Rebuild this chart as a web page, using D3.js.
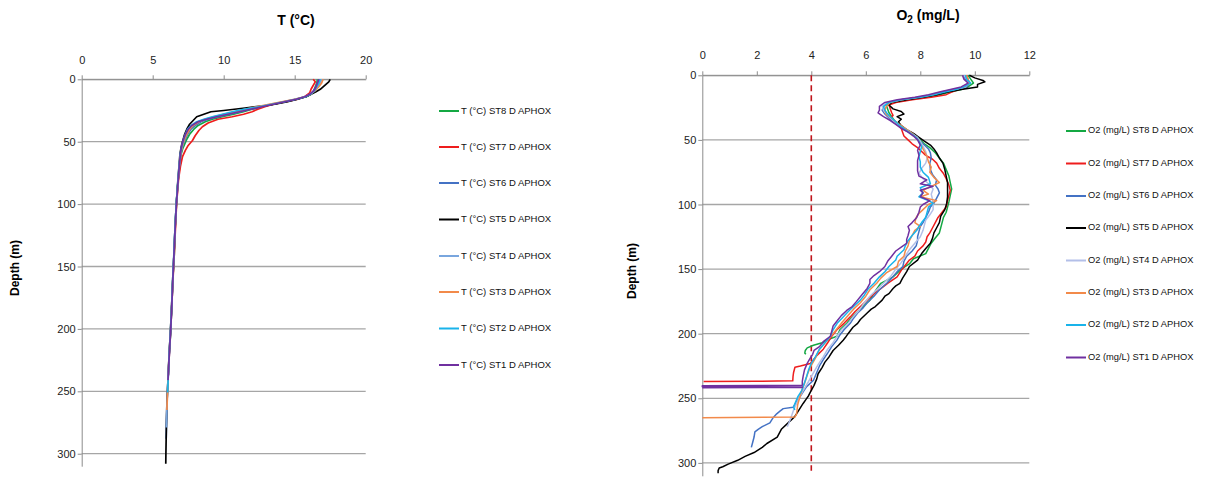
<!DOCTYPE html>
<html>
<head>
<meta charset="utf-8">
<script src="https://cdn.jsdelivr.net/npm/d3@7"></script>
<style>
  body { margin: 0; background: #fff; }
  svg { font-family: "Liberation Sans", Arial, sans-serif; }
  .axis path, .axis line { stroke: #8c8c8c; }
  .axis text { font-size: 11px; fill: #222; }
  .grid line { stroke: #a6a6a6; stroke-width: 1.3; }
</style>
</head>
<body>
<svg id="chart" width="1207" height="477"></svg>
<script>
// stations, in legend / draw order
const stations = ['ST8', 'ST7', 'ST6', 'ST5', 'ST4', 'ST3', 'ST2', 'ST1'];
const tempColors = ['#14a843', '#ee1d1d', '#4472c4', '#000000', '#79a6de', '#f28a4a', '#19b3ea', '#7030a0'];
const o2Colors = ['#14a843', '#ee1d1d', '#4472c4', '#000000', '#b3bfe8', '#f28a4a', '#19b3ea', '#7030a0'];

const tempTicks = [0, 5, 10, 15, 20];
const o2Ticks = [0, 2, 4, 6, 8, 10, 12];
const depthTicks = [0, 50, 100, 150, 200, 250, 300];
const o2Threshold = 4;

// [depth (m), T (°C)]
const tempST8 = [[0,16.6],[3,16.55],[6,16.45],[9,16.35],[12,16.15],[14,15.8],[16,15.1],[18,14.3],[20,13.5],[22,12.7],[24,12.0],[26,11.4],[28,10.7],[30,9.9],[32,9.2],[34,8.7],[37,8.2],[40,7.9],[44,7.6],[48,7.4],[52,7.25],[56,7.1],[60,7.0],[70,6.9],[80,6.8],[90,6.72],[100,6.67],[120,6.58],[140,6.52],[160,6.42],[180,6.35],[200,6.27],[216,6.2]];
const tempST7 = [[0,16.3],[2,16.45],[5,16.3],[8,16.15],[11,16.05],[14,15.7],[16,15.2],[18,14.4],[20,13.5],[22,12.9],[24,12.4],[26,12.0],[28,11.4],[30,10.6],[32,9.6],[35,8.9],[38,8.5],[41,8.25],[45,8.0],[49,7.8],[53,7.5],[57,7.3],[62,7.1],[70,6.95],[80,6.82],[90,6.75],[100,6.68],[120,6.6],[140,6.52],[160,6.43],[180,6.35],[200,6.27],[220,6.17],[237,6.1]];
const tempST6 = [[0,16.7],[3,16.6],[6,16.5],[9,16.35],[12,16.1],[14,15.75],[16,15.05],[18,14.2],[20,13.4],[22,12.6],[24,11.8],[26,11.2],[28,10.4],[30,9.6],[32,8.9],[34,8.4],[37,8.0],[40,7.7],[44,7.45],[48,7.3],[52,7.15],[56,7.05],[60,6.98],[70,6.88],[80,6.8],[100,6.66],[120,6.57],[140,6.5],[160,6.42],[180,6.35],[200,6.27],[220,6.17],[240,6.08],[260,6.0],[288,5.95]];
const tempST5 = [[0,17.5],[2,17.4],[4,17.2],[6,17.0],[8,16.8],[10,16.5],[12,16.15],[14,15.8],[16,15.2],[18,14.5],[20,13.6],[21,13.0],[23,11.5],[25,10.0],[26,9.1],[28,8.6],[30,8.1],[33,7.85],[36,7.6],[40,7.4],[44,7.25],[48,7.15],[52,7.05],[56,6.98],[60,6.92],[70,6.85],[80,6.78],[100,6.66],[120,6.57],[140,6.5],[160,6.41],[180,6.34],[200,6.26],[220,6.16],[240,6.08],[260,6.0],[280,5.96],[300,5.93],[308,5.92]];
const tempST4 = [[0,16.9],[3,16.8],[6,16.6],[9,16.4],[12,16.1],[14,15.7],[16,15.0],[18,14.2],[20,13.3],[22,12.5],[24,11.7],[26,10.9],[28,10.1],[30,9.4],[32,8.7],[34,8.2],[37,7.8],[40,7.55],[44,7.35],[48,7.2],[52,7.1],[56,7.02],[60,6.95],[70,6.86],[80,6.79],[100,6.66],[120,6.57],[140,6.5],[160,6.42],[180,6.34],[200,6.26],[220,6.16],[240,6.08],[260,6.01],[279,5.96]];
const tempST3 = [[0,17.0],[3,16.9],[6,16.7],[9,16.45],[12,16.1],[14,15.7],[16,15.0],[18,14.1],[20,13.2],[22,12.3],[24,11.5],[26,10.8],[28,10.0],[30,9.3],[32,8.7],[34,8.25],[37,7.85],[40,7.6],[44,7.4],[48,7.25],[52,7.12],[56,7.04],[60,6.97],[70,6.87],[80,6.8],[100,6.67],[120,6.58],[140,6.5],[160,6.42],[180,6.34],[200,6.26],[220,6.16],[240,6.08],[265,6.0]];
const tempST2 = [[0,16.8],[3,16.7],[6,16.55],[9,16.4],[12,16.1],[14,15.75],[16,15.1],[18,14.3],[20,13.4],[22,12.5],[24,11.4],[26,10.6],[28,9.9],[30,9.2],[32,8.6],[34,8.1],[37,7.7],[40,7.45],[44,7.3],[48,7.18],[52,7.08],[56,7.0],[60,6.95],[70,6.86],[80,6.79],[100,6.66],[120,6.57],[140,6.49],[160,6.41],[180,6.34],[200,6.26],[220,6.16],[240,6.09],[251,6.05]];
const tempST1 = [[0,16.7],[3,16.6],[6,16.5],[9,16.35],[12,16.05],[14,15.7],[16,15.1],[18,14.3],[20,13.5],[22,12.7],[24,11.9],[26,11.1],[28,10.3],[30,9.5],[32,8.8],[34,8.2],[37,7.75],[40,7.5],[44,7.3],[48,7.17],[52,7.07],[56,7.0],[60,6.95],[70,6.87],[80,6.8],[100,6.67],[120,6.58],[140,6.5],[160,6.42],[180,6.35],[200,6.27],[220,6.17],[241,6.08]];

// [depth (m), O2 (mg/L)]
const o2ST8 = [[0,9.75],[3,9.85],[6,9.95],[9,9.75],[11,9.5],[13,9.1],[15,8.7],[17,8.2],[19,7.6],[21,7.0],[23,6.75],[26,6.8],[29,6.85],[32,6.95],[35,7.05],[38,7.2],[41,7.35],[44,7.6],[47,7.85],[50,8.0],[53,8.15],[56,8.35],[60,8.55],[64,8.7],[68,8.85],[73,8.95],[78,9.05],[83,9.1],[88,9.15],[93,9.1],[98,9.05],[102,9.0],[106,8.95],[110,8.85],[114,8.8],[118,8.75],[122,8.7],[126,8.55],[130,8.4],[134,8.3],[138,8.2],[142,7.75],[146,7.6],[150,7.3],[156,7.0],[161,6.55],[167,6.35],[174,6.15],[178,5.95],[183,5.7],[187,5.5],[192,5.3],[197,5.05],[202,4.94],[205,4.57],[207,4.4],[209,4.08],[211,3.85],[213,3.78],[215,3.76],[216,3.8]];
const o2ST7 = [[0,9.7],[3,9.75],[6,9.8],[9,9.7],[11,9.4],[13,9.15],[15,8.95],[17,8.4],[19,7.7],[21,7.1],[23,6.85],[26,6.9],[29,6.95],[31,7.0],[33,6.9],[35,6.95],[38,7.15],[41,7.3],[44,7.35],[47,7.4],[50,7.55],[53,7.7],[56,7.9],[59,8.05],[62,8.2],[65,8.45],[68,8.6],[72,8.7],[76,8.85],[80,8.95],[85,9.05],[89,9.1],[93,9.05],[97,9.0],[102,8.95],[106,8.8],[110,8.65],[114,8.55],[118,8.45],[122,8.35],[125,8.25],[129,8.2],[132,8.1],[136,7.9],[140,7.8],[143,7.6],[147,7.45],[151,7.3],[156,7.15],[161,6.8],[166,6.5],[170,6.25],[174,6.05],[178,5.85],[183,5.6],[187,5.43],[192,5.2],[197,4.94],[202,4.75],[207,4.6],[212,4.44],[217,4.2],[221,4.05],[223,3.96],[225,3.6],[226,3.4],[230,3.35],[233,3.33],[236.5,3.32],[236.8,2.0],[237,0.05]];
const o2ST6 = [[0,9.6],[3,9.65],[6,9.8],[9,9.7],[11,9.3],[13,8.8],[15,8.5],[17,8.0],[19,7.3],[21,6.85],[24,6.65],[27,6.6],[30,6.7],[33,6.85],[36,7.0],[39,7.2],[42,7.4],[45,7.65],[48,7.85],[51,8.0],[54,8.15],[57,8.3],[60,8.37],[64,8.4],[68,8.35],[73,8.37],[77,8.45],[81,8.6],[85,8.55],[88,8.65],[91,8.7],[95,8.6],[99,8.5],[102,8.37],[106,8.3],[110,8.2],[114,8.1],[117,8.0],[121,7.95],[125,7.9],[128,7.9],[132,7.85],[136,7.7],[140,7.5],[144,7.4],[148,7.36],[152,7.15],[157,6.95],[161,6.77],[166,6.5],[171,6.3],[176,6.05],[180,5.9],[184,5.7],[188,5.55],[192,5.43],[197,5.2],[201,5.05],[205,4.94],[210,4.75],[215,4.6],[220,4.44],[225,4.3],[230,4.2],[236,4.08],[241,3.83],[245,3.7],[249,3.58],[253,3.45],[257,3.33],[258,2.97],[260,2.85],[262,2.73],[265,2.6],[269,2.48],[272,2.2],[274,2.05],[276,1.93],[280,1.9],[284,1.85],[288,1.8]];
const o2ST5 = [[0,9.8],[2,10.0],[4,10.3],[5,10.37],[7,10.1],[9,10.1],[11,9.5],[13,9.0],[15,8.6],[17,8.1],[19,7.5],[21,6.95],[23,6.85],[26,7.0],[28,7.3],[30,7.4],[32,7.15],[34,7.3],[36,7.2],[39,7.3],[42,7.5],[45,7.75],[48,7.95],[51,8.15],[54,8.37],[57,8.5],[60,8.6],[64,8.7],[68,8.83],[73,8.9],[78,8.95],[83,9.0],[88,9.0],[94,9.0],[99,8.97],[104,8.9],[109,8.75],[114,8.7],[118,8.6],[122,8.5],[126,8.45],[130,8.37],[134,8.2],[138,8.05],[143,7.9],[148,7.6],[152,7.5],[157,7.35],[161,7.25],[163,7.1],[165,7.0],[169,6.85],[171,6.7],[174,6.6],[179,6.35],[181,6.2],[184,6.05],[189,5.8],[192,5.7],[195,5.53],[200,5.35],[203,5.25],[205,5.17],[209,5.0],[213,4.8],[218,4.65],[222,4.5],[226,4.4],[231,4.25],[235,4.2],[240,4.1],[245,3.97],[248,3.9],[251,3.8],[254,3.7],[259,3.55],[264,3.4],[269,3.15],[274,2.9],[280,2.75],[285,2.37],[288,2.2],[292,1.9],[295,1.57],[298,1.3],[301,0.95],[303,0.75],[304,0.62],[306,0.58],[308,0.58]];
const o2ST4 = [[0,9.6],[3,9.7],[6,9.8],[9,9.65],[11,9.25],[13,8.75],[15,8.4],[17,7.9],[19,7.3],[21,6.8],[24,6.6],[27,6.65],[30,6.75],[33,6.9],[36,7.05],[39,7.25],[42,7.5],[45,7.7],[48,7.9],[51,8.0],[55,8.1],[59,8.2],[64,8.25],[68,8.2],[72,8.05],[76,7.95],[80,8.1],[84,8.3],[88,8.47],[92,8.4],[96,8.45],[100,8.47],[104,8.47],[108,8.35],[112,8.2],[116,8.15],[120,8.1],[125,8.0],[130,7.8],[135,7.6],[140,7.45],[145,7.3],[150,7.1],[156,6.9],[161,6.65],[166,6.4],[171,6.15],[176,5.95],[182,5.75],[187,5.53],[192,5.35],[197,5.1],[202,4.94],[207,4.8],[212,4.6],[218,4.44],[224,4.25],[231,4.06],[237,3.9],[244,3.7],[249,3.58],[254,3.46],[259,3.35],[264,3.27],[268,3.2],[272,3.12]];
const o2ST3 = [[0,9.7],[3,9.75],[6,9.8],[9,9.6],[11,9.2],[13,8.8],[15,8.45],[17,7.95],[19,7.3],[21,6.9],[24,6.75],[27,6.7],[30,6.75],[33,6.95],[36,7.1],[39,7.3],[42,7.5],[45,7.7],[48,7.85],[51,7.95],[55,8.05],[59,8.15],[63,8.25],[67,8.3],[71,8.4],[75,8.35],[79,8.5],[83,8.7],[86,8.4],[89,8.1],[92,8.3],[94,8.0],[97,8.6],[100,8.3],[102,8.2],[104,8.1],[107,7.95],[110,7.85],[114,7.8],[117,8.0],[120,7.8],[124,7.7],[128,7.6],[132,7.55],[136,7.45],[140,7.4],[144,7.2],[148,7.15],[153,6.75],[157,6.55],[161,6.4],[166,6.15],[171,6.0],[176,5.8],[181,5.55],[187,5.3],[192,5.1],[196,4.95],[200,4.8],[206,4.55],[212,4.3],[219,4.15],[226,3.96],[232,3.85],[238,3.76],[244,3.65],[249,3.58],[255,3.5],[262,3.46],[264.5,3.4],[265,0]];
const o2ST2 = [[0,9.65],[3,9.7],[6,9.85],[9,9.6],[11,9.3],[13,8.9],[15,8.5],[17,8.0],[19,7.3],[21,6.85],[24,6.65],[27,6.7],[30,6.8],[33,6.95],[36,7.1],[39,7.25],[42,7.45],[45,7.65],[48,7.85],[51,7.95],[55,8.05],[59,8.0],[63,7.95],[67,8.0],[71,8.0],[75,8.1],[79,8.3],[84,8.37],[87,8.0],[91,8.1],[94,7.95],[97,8.3],[99,8.47],[102,8.3],[106,8.25],[110,8.2],[114,8.05],[117,7.95],[120,7.87],[124,7.7],[128,7.55],[132,7.45],[135,7.4],[140,7.15],[143,7.1],[148,6.85],[152,6.7],[156,6.5],[161,6.3],[165,6.1],[170,5.95],[174,5.8],[179,5.55],[183,5.35],[187,5.17],[192,4.95],[197,4.8],[202,4.7],[207,4.5],[212,4.3],[218,4.15],[223,4.0],[228,3.9],[233,3.83],[238,3.75],[244,3.65],[249,3.5],[254,3.4],[257,3.35],[259,3.4]];
const o2ST1 = [[0,9.55],[3,9.6],[6,9.75],[9,9.5],[11,9.1],[13,8.7],[15,8.3],[17,7.8],[19,7.15],[21,6.7],[24,6.5],[27,6.5],[29,6.45],[32,6.65],[35,6.9],[38,7.1],[41,7.3],[44,7.55],[47,7.75],[50,7.9],[54,8.0],[58,7.9],[62,7.95],[66,7.9],[70,7.9],[74,7.9],[78,7.95],[81,8.24],[84,8.0],[86,8.47],[89,8.0],[91,8.1],[94,8.0],[97,8.35],[100,8.1],[102,8.0],[106,7.95],[110,7.87],[114,7.7],[117,7.55],[120,7.6],[124,7.55],[127,7.5],[130,7.5],[133,7.3],[136,7.1],[140,6.95],[144,6.8],[148,6.7],[152,6.5],[155,6.3],[158,6.15],[161,6.15],[165,6.05],[170,5.85],[175,5.66],[179,5.5],[182,5.3],[186,5.1],[190,4.95],[194,4.8],[198,4.75],[202,4.7],[206,4.45],[210,4.3],[213,4.1],[216,4.05],[219,3.96],[223,3.85],[228,3.75],[233,3.7],[237,3.67],[240,3.67],[240.3,0],[241,0],[241,3.67],[241.7,3.67],[241.8,0]];

const tempSeries = [tempST8, tempST7, tempST6, tempST5, tempST4, tempST3, tempST2, tempST1];
const o2Series = [o2ST8, o2ST7, o2ST6, o2ST5, o2ST4, o2ST3, o2ST2, o2ST1];

const svg = d3.select('#chart');

function drawPanel(opts) {
    const { xScale, yScale, xTicks, series, colors, labelPad, lineWidth } = opts;
    const g = svg.append('g');
    const [x0, x1] = xScale.range();

    // horizontal gridlines
    g.append('g')
        .attr('class', 'grid')
        .selectAll('line')
        .data(depthTicks)
        .join('line')
        .attr('x1', x0)
        .attr('x2', x1)
        .attr('y1', d => yScale(d))
        .attr('y2', d => yScale(d));

    g.append('g')
        .attr('class', 'axis')
        .attr('transform', `translate(0,${yScale(0)})`)
        .call(d3.axisTop(xScale).tickValues(xTicks).tickSize(4).tickPadding(labelPad).tickSizeOuter(0));

    g.append('g')
        .attr('class', 'axis')
        .attr('transform', `translate(${x0},0)`)
        .call(d3.axisLeft(yScale).tickValues(depthTicks).tickSize(4).tickPadding(2).tickSizeOuter(0));

    if (opts.extra) opts.extra(g);

    const line = d3.line()
        .x(d => xScale(d[1]))
        .y(d => yScale(d[0]));

    g.append('g')
        .selectAll('path')
        .data(series)
        .join('path')
        .attr('d', line)
        .attr('fill', 'none')
        .attr('stroke', (_, i) => colors[i])
        .attr('stroke-width', lineWidth)
        .attr('stroke-linejoin', 'round');
    return g;
}

// ---- temperature panel ----
const xT = d3.scaleLinear().domain([0, 20]).range([81.7, 365.7]);
const yT = d3.scaleLinear().domain([0, 310]).range([79.3, 466.2]);
drawPanel({ xScale: xT, yScale: yT, xTicks: tempTicks, series: tempSeries, colors: tempColors, labelPad: 11, lineWidth: 1.7 });

// ---- oxygen panel ----
const xO = d3.scaleLinear().domain([0, 12]).range([702.3, 1029.3]);
const yO = d3.scaleLinear().domain([0, 310]).range([75.3, 475.8]);
drawPanel({
    xScale: xO, yScale: yO, xTicks: o2Ticks, series: o2Series, colors: o2Colors, labelPad: 12, lineWidth: 1.5,
    extra: g => {
        g.append('line')
            .attr('x1', xO(o2Threshold))
            .attr('x2', xO(o2Threshold))
            .attr('y1', yO(0))
            .attr('y2', yO(306))
            .attr('stroke', '#c0151b')
            .attr('stroke-width', 1.6)
            .attr('stroke-dasharray', '6,4');
    }
});

// titles
svg.append('text')
    .attr('x', 296).attr('y', 25)
    .attr('text-anchor', 'middle')
    .attr('font-size', 14).attr('font-weight', 'bold')
    .text('T (°C)');

const o2Title = svg.append('text')
    .attr('x', 928).attr('y', 20)
    .attr('text-anchor', 'middle')
    .attr('font-size', 14).attr('font-weight', 'bold');
o2Title.append('tspan').text('O');
o2Title.append('tspan').attr('font-size', 10).attr('dy', 3).text('2');
o2Title.append('tspan').attr('dy', -3).text(' (mg/L)');

// y-axis labels
[[16, 268], [633, 271]].forEach(([x, y]) => {
    svg.append('text')
        .attr('transform', `translate(${x},${y}) rotate(-90)`)
        .attr('text-anchor', 'middle')
        .attr('dominant-baseline', 'middle')
        .attr('font-size', 12).attr('font-weight', 'bold')
        .text('Depth (m)');
});

// legends
function legend(x, ys, colors, label, fontSize) {
    const lg = svg.append('g');
    const items = lg.selectAll('g')
        .data(stations)
        .join('g')
        .attr('transform', (_, i) => `translate(${x},${ys[i]})`);
    items.append('line')
        .attr('x1', 0).attr('x2', 20)
        .attr('stroke', (_, i) => colors[i])
        .attr('stroke-width', 2);
    items.append('text')
        .attr('x', 22)
        .attr('dominant-baseline', 'middle')
        .attr('font-size', fontSize)
        .attr('fill', '#111')
        .text(d => `${label} ${d} D APHOX`);
}

const tempLegendY = [111, 147, 183, 219.5, 256, 292, 328.5, 365];
const o2LegendY = [131, 163.5, 196, 228, 260.5, 293, 325, 357.5];
legend(439, tempLegendY, tempColors, 'T (°C)', 9.5);
legend(1066, o2LegendY, o2Colors, 'O2 (mg/L)', 9.3);
</script>
</body>
</html>
